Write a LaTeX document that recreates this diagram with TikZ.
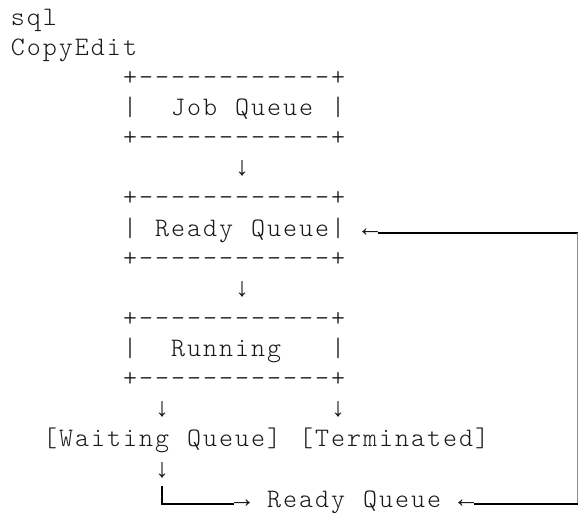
\documentclass[tikz,border=0pt]{standalone}
\usepackage{fontspec}
\newfontfamily\courfont{lmmonolt10-regular.otf}
\newfontfamily\arrowfont{Liberation Mono}
\newcommand\cells[1]{\cellsloop#1\relax}
\def\cellsloop#1{\ifx\relax#1\else\makebox[12pt][c]{#1}\expandafter\cellsloop\fi}
\begin{document}
\begin{tikzpicture}[x=0.75pt,y=-0.75pt,
  txt/.style={anchor=base west,inner sep=0pt,outer sep=0pt,
    font=\courfont\fontsize{20pt}{24pt}\selectfont,text=black!90},
  arr/.style={anchor=base west,inner sep=0pt,outer sep=0pt,
    font=\arrowfont\fontsize{20pt}{24pt}\selectfont,text=black!90},
  boxline/.style={line width=1.6pt,black},
  edgeline/.style={line width=0.8pt,black!45}]
\useasboundingbox (0,0) rectangle (578,512);
\fill[white] (0,0) rectangle (578,512);
% header
\node[txt] (sql)  at (10,25.2) {\cells{sql}};
\node[txt] (copy) at (10,55.3) {\cells{CopyEdit}};
% job queue box
\node[txt] (jobtop) at (122,85.4)  {\cells{+------------+}};
\node[txt] (jobmid) at (122,115.6) {\cells{|~~Job~Queue~|}};
\node[txt] (jobbot) at (122,145.7) {\cells{+------------+}};
\node[arr] (d1) at (234,175.8) {\cells{↓}};
% ready queue box
\node[txt] (rdytop) at (122,205.9) {\cells{+------------+}};
\node[txt] (rdymid) at (122,236.0) {\cells{|~Ready~Queue|}};
\node[txt] (rdybot) at (122,266.2) {\cells{+------------+}};
\node[arr] (la) at (362,236.0) {\cells{←}};
\node[arr] (d2) at (234,296.3) {\cells{↓}};
% running box
\node[txt] (runtop) at (122,326.4) {\cells{+------------+}};
\node[txt] (runmid) at (122,356.5) {\cells{|~~Running~~~|}};
\node[txt] (runbot) at (122,386.6) {\cells{+------------+}};
\node[arr] (d3) at (154,416.8) {\cells{↓}};
\node[arr] (d4) at (330,416.8) {\cells{↓}};
% waiting / terminated
\node[txt] (wait) at (42,446.9)  {\cells{[Waiting~Queue]}};
\node[txt] (term) at (298,446.9) {\cells{[Terminated]}};
\node[arr] (d5) at (154,477.0) {\cells{↓}};
% bottom line
\node[arr] (ra) at (234,507.1) {\cells{→}};
\node[txt] (rdy2) at (266,507.1) {\cells{Ready~Queue}};
\node[arr] (lb) at (458,507.1) {\cells{←}};
% connectors
\coordinate (tr) at (578,233);
\coordinate (trv) at (577.5,233);
\coordinate (brv) at (577.5,504);
\coordinate (br) at (578,504);
\coordinate (ctop) at (162,486);
\coordinate (corner) at (162,504);
\draw[boxline] (la.east |- tr) -- (tr);
\draw[edgeline] (trv) -- (brv);
\draw[boxline] (br) -- (lb.east |- br);
\draw[boxline] (ctop) -- (corner) -- (ra.west |- corner);
\end{tikzpicture}
\end{document}
